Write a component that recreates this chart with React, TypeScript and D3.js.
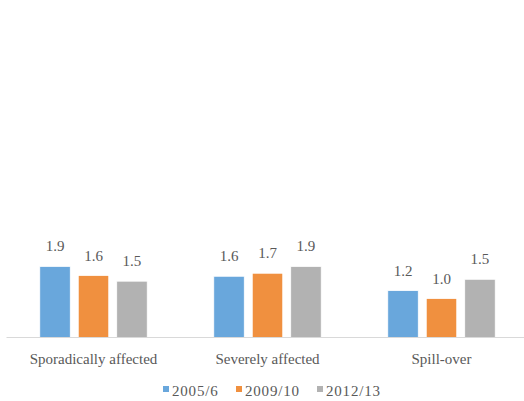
import React from "react";
import * as d3 from "d3";

const categories = ["Sporadically affected", "Severely affected", "Spill-over"];
const seriesNames = ["2005/6", "2009/10", "2012/13"];
const values2005 = [1.88, 1.62, 1.24];
const values2009 = [1.64, 1.7, 1.03];
const values2012 = [1.49, 1.88, 1.54];
const seriesValues = [values2005, values2009, values2012];

const COLORS = ["#69a7dc", "#f0903f", "#b2b2b2"];
const FONT = "Liberation Serif, Times New Roman, DejaVu Serif, Tinos, serif";
const TEXT_COLOR = "#595959";

const width = 524;
const height = 401;

const App: React.FC = () => {
    const baseline = 337.5;

    // Outer scale: one band per category
    const x0 = d3.scaleBand<string>().domain(categories).range([6.5, 528.5]).padding(0);

    // Inner scale: one bar per series inside a category
    const x1 = d3
        .scaleBand<string>()
        .domain(seriesNames)
        .range([0, x0.bandwidth()])
        .paddingInner(0.208)
        .paddingOuter(0.865);

    const y = d3.scaleLinear().domain([0, 8.8]).range([baseline, 4.9]);
    const fmt = d3.format(".1f");

    // legend layout
    const legendX = 163;
    const legendOffsets = [0, 73, 154];

    return (
        <div style={{ position: "fixed", left: 0, top: 0, fontFamily: FONT }}>
            <svg width={width} height={height} style={{ display: "block", background: "#fff", fontFamily: FONT }}>
                {categories.map((cat, ci) => (
                    <g key={cat} transform={`translate(${x0(cat)},0)`}>
                        {seriesNames.map((s, si) => {
                            const v = seriesValues[si][ci];
                            const bx = x1(s) as number;
                            return (
                                <g key={s}>
                                    <rect
                                        x={bx}
                                        y={y(v)}
                                        width={x1.bandwidth()}
                                        height={baseline - y(v)}
                                        fill={COLORS[si]}
                                        stroke="#ffffff"
                                        strokeWidth={0.75}
                                    />
                                    <text
                                        x={bx + x1.bandwidth() / 2}
                                        y={y(v) - 15}
                                        textAnchor="middle"
                                        style={{ fontFamily: FONT, fontSize: 15 }}
                                        fill={TEXT_COLOR}
                                    >
                                        {fmt(v)}
                                    </text>
                                </g>
                            );
                        })}
                        <text
                            x={x0.bandwidth() / 2}
                            y={364}
                            textAnchor="middle"
                            style={{ fontFamily: FONT, fontSize: 15 }}
                            fill={TEXT_COLOR}
                        >
                            {cat}
                        </text>
                    </g>
                ))}

                {/* category axis line */}
                <line
                    x1={x0.range()[0]}
                    x2={x0.range()[1]}
                    y1={baseline}
                    y2={baseline}
                    stroke="#d9d9d9"
                    strokeWidth={1}
                />

                {/* legend */}
                {seriesNames.map((s, si) => (
                    <g key={s} transform={`translate(${legendX + legendOffsets[si]},0)`}>
                        <rect x={0} y={386} width={6} height={6} fill={COLORS[si]} />
                        <text
                            x={9}
                            y={396}
                            style={{ fontFamily: FONT, fontSize: 15, letterSpacing: 0.8 }}
                            fill={TEXT_COLOR}
                        >
                            {s}
                        </text>
                    </g>
                ))}
            </svg>
        </div>
    );
};

export default App;
